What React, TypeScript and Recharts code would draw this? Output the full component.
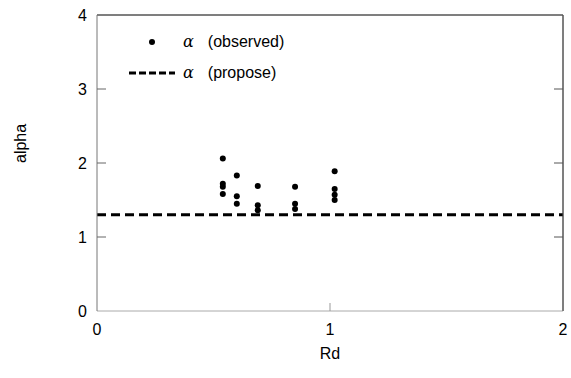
import {
  ScatterChart,
  Scatter,
  XAxis,
  YAxis,
  ReferenceLine,
} from "recharts";

const rdValues = [0.54, 0.54, 0.54, 0.54, 0.6, 0.6, 0.6, 0.69, 0.69, 0.69, 0.85, 0.85, 0.85, 1.02, 1.02, 1.02, 1.02];
const alphaObserved = [2.06, 1.72, 1.68, 1.58, 1.83, 1.55, 1.45, 1.69, 1.43, 1.36, 1.68, 1.45, 1.38, 1.89, 1.65, 1.57, 1.5];
const alphaProposed = 1.3;
const xTicks = [0, 1, 2];
const yTicks = [0, 1, 2, 3, 4];

const points = rdValues.map((rd, i) => ({ rd, alpha: alphaObserved[i] }));

const FONT = "'Liberation Sans', Arial, sans-serif";
const TICK_LEN = 9;

const LeftTick = (props: any) => {
  const { x, y, payload } = props;
  const axisX = x + 10;
  return (
    <g>
      <text x={x} y={y} dy={6} textAnchor="end" fontSize={16} fontFamily={FONT} fill="#000">
        {payload.value}
      </text>
      {payload.value > 0 && payload.value < 4 && (
        <>
          <line x1={axisX} x2={axisX + TICK_LEN} y1={y} y2={y} stroke="#666" />
        </>
      )}
    </g>
  );
};

const RightTick = (props: any) => {
  const { x, y, payload } = props;
  if (payload.value <= 0 || payload.value >= 4) return <g />;
  return <line x1={x - TICK_LEN} x2={x} y1={y} y2={y} stroke="#555" />;
};

const BottomTick = (props: any) => {
  const { x, y, payload } = props;
  const axisY = y - 10;
  return (
    <g>
      <text x={x} y={y} dy={14} textAnchor="middle" fontSize={16} fontFamily={FONT} fill="#000">
        {payload.value}
      </text>
      {payload.value > 0 && payload.value < 2 && (
        <line x1={x} x2={x} y1={axisY} y2={axisY - 8} stroke="#999" />
      )}
    </g>
  );
};

const Dot = (props: any) => <circle cx={props.cx} cy={props.cy} r={3} fill="#000" />;

const LegendBox = () => (
  <div
    style={{
      position: "absolute",
      left: 129,
      top: 26,
      fontFamily: FONT,
      fontSize: 16,
      color: "#000",
      lineHeight: "31px",
    }}
  >
    <div style={{ display: "flex", alignItems: "center" }}>
      <svg width={54} height={16}>
        <circle cx={23} cy={8} r={3} fill="#000" />
      </svg>
      <span style={{ fontStyle: "italic", fontFamily: "'DejaVu Serif', serif" }}>α</span>
      <span style={{ marginLeft: 14 }}>(observed)</span>
    </div>
    <div style={{ display: "flex", alignItems: "center" }}>
      <svg width={54} height={16}>
        <line x1={0} x2={46} y1={8} y2={8} stroke="#000" strokeWidth={3} strokeDasharray="7 3" />
      </svg>
      <span style={{ fontStyle: "italic", fontFamily: "'DejaVu Serif', serif" }}>α</span>
      <span style={{ marginLeft: 14 }}>(propose)</span>
    </div>
  </div>
);

export default function App() {
  return (
    <div style={{ position: "absolute", left: 0, top: 0, width: 571, height: 378, background: "#fff" }}>
      <ScatterChart width={571} height={378} margin={{ top: 14, right: 7, bottom: 0, left: 0 }}>
        <XAxis
          dataKey="rd"
          type="number"
          domain={[0, 2]}
          ticks={xTicks}
          tick={<BottomTick />}
          tickLine={false}
          tickSize={0}
          tickMargin={10}
          stroke="#aaa"
          height={67}
          label={{ value: "Rd", position: "insideBottom", offset: 19, fontSize: 16, fontFamily: FONT, fill: "#000" }}
        />
        <XAxis
          xAxisId="top"
          dataKey="rd"
          orientation="top"
          type="number"
          domain={[0, 2]}
          ticks={xTicks}
          tick={false}
          tickLine={false}
          height={1}
          axisLine={{ stroke: "#555" }}
        />
        <YAxis
          dataKey="alpha"
          type="number"
          domain={[0, 4]}
          ticks={yTicks}
          tick={<LeftTick />}
          tickLine={false}
          tickSize={0}
          tickMargin={10}
          stroke="#777"
          width={97}
          label={{ value: "alpha", angle: -90, position: "insideLeft", offset: 20, fontSize: 16, fontFamily: FONT, fill: "#000" }}
        />
        <YAxis
          yAxisId="right"
          dataKey="alpha"
          orientation="right"
          type="number"
          domain={[0, 4]}
          ticks={yTicks}
          tick={<RightTick />}
          tickLine={false}
          tickSize={0}
          tickMargin={0}
          width={1}
          axisLine={{ stroke: "#555" }}
        />
        <ReferenceLine y={4} stroke="#555" />
        <ReferenceLine x={2} stroke="#555" />
        <ReferenceLine
          y={alphaProposed}
          stroke="#000"
          strokeWidth={3}
          strokeDasharray="9 5"
        />
        <Scatter data={points} fill="#000" shape={<Dot />} isAnimationActive={false} />
        <Scatter
          data={points}
          xAxisId="top"
          yAxisId="right"
          shape={() => <g />}
          legendType="none"
          isAnimationActive={false}
        />
      </ScatterChart>
      <LegendBox />
    </div>
  );
}
